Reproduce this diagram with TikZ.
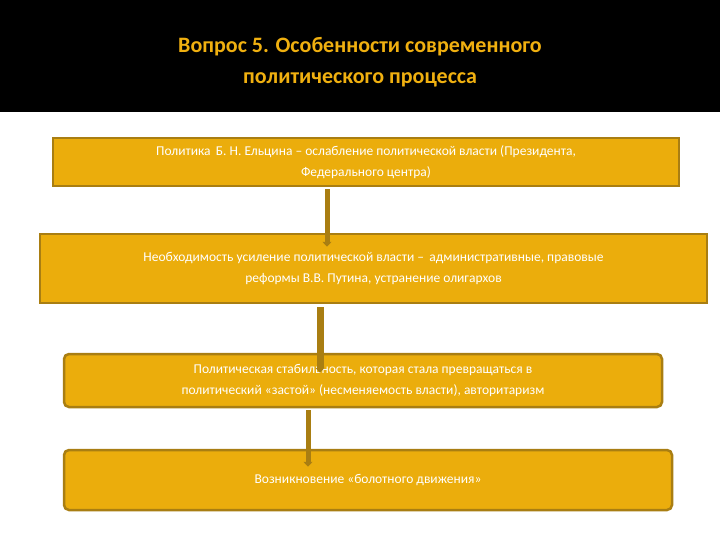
\documentclass[tikz,border=0pt]{standalone}
\usepackage{fontspec}
\setmainfont{Carlito}
\usetikzlibrary{arrows.meta}
\definecolor{gold}{HTML}{EBAD0C}
\definecolor{goldedge}{HTML}{A97E12}
\definecolor{titlegold}{HTML}{F0B010}
\begin{document}
\begin{tikzpicture}[x=1pt,y=-1pt,
  box/.style={draw=goldedge,line width=2.5pt,fill=gold,text=white,font=\fontsize{13.5}{21}\selectfont,align=center,inner sep=0pt},
  conn/.style={draw=goldedge,line width=5pt,-{Triangle[length=5pt,width=9pt]}}]
\useasboundingbox (0,0) rectangle (720,540);
\fill[white] (0,0) rectangle (720,540);
\fill[black] (0,0) rectangle (720,112);
\node[text=titlegold,font=\bfseries\fontsize{22}{31}\selectfont,align=center] (title) at (360,62) {Вопрос 5. Особенности современного\\политического процесса};
\node[box,minimum width=626pt,minimum height=48pt] (b1) at (366,162) {Политика \,Б. Н. Ельцина – ослабление политической власти (Президента,\\Федерального центра)};
\node[box,minimum width=667pt,minimum height=69pt] (b2) at (373.5,268.5) {Необходимость усиление политической власти – \,административные, правовые\\реформы В.В. Путина, устранение олигархов};
\node[box,rounded corners=5pt,minimum width=598pt,minimum height=53pt] (b3) at (363,380.5) {Политическая стабильность, которая стала превращаться в\\политический «застой» (несменяемость власти), авторитаризм};
\node[box,rounded corners=5pt,minimum width=608pt,minimum height=60pt] (b4) at (368,480) {Возникновение «болотного движения»};
\coordinate (a1) at (327,0); \coordinate (a2) at (320,0); \coordinate (a3) at (308,0);
\draw[conn] (b1.south -| a1) ++(0,2) -- ([yshift=-14pt]b2.north -| a1);
\draw[conn,line width=7pt] (b2.south -| a2) ++(0,3) -- ([yshift=-20pt]b3.north -| a2);
\draw[conn] (b3.south -| a3) ++(0,2) -- ([yshift=-18pt]b4.north -| a3);
\end{tikzpicture}
\end{document}
